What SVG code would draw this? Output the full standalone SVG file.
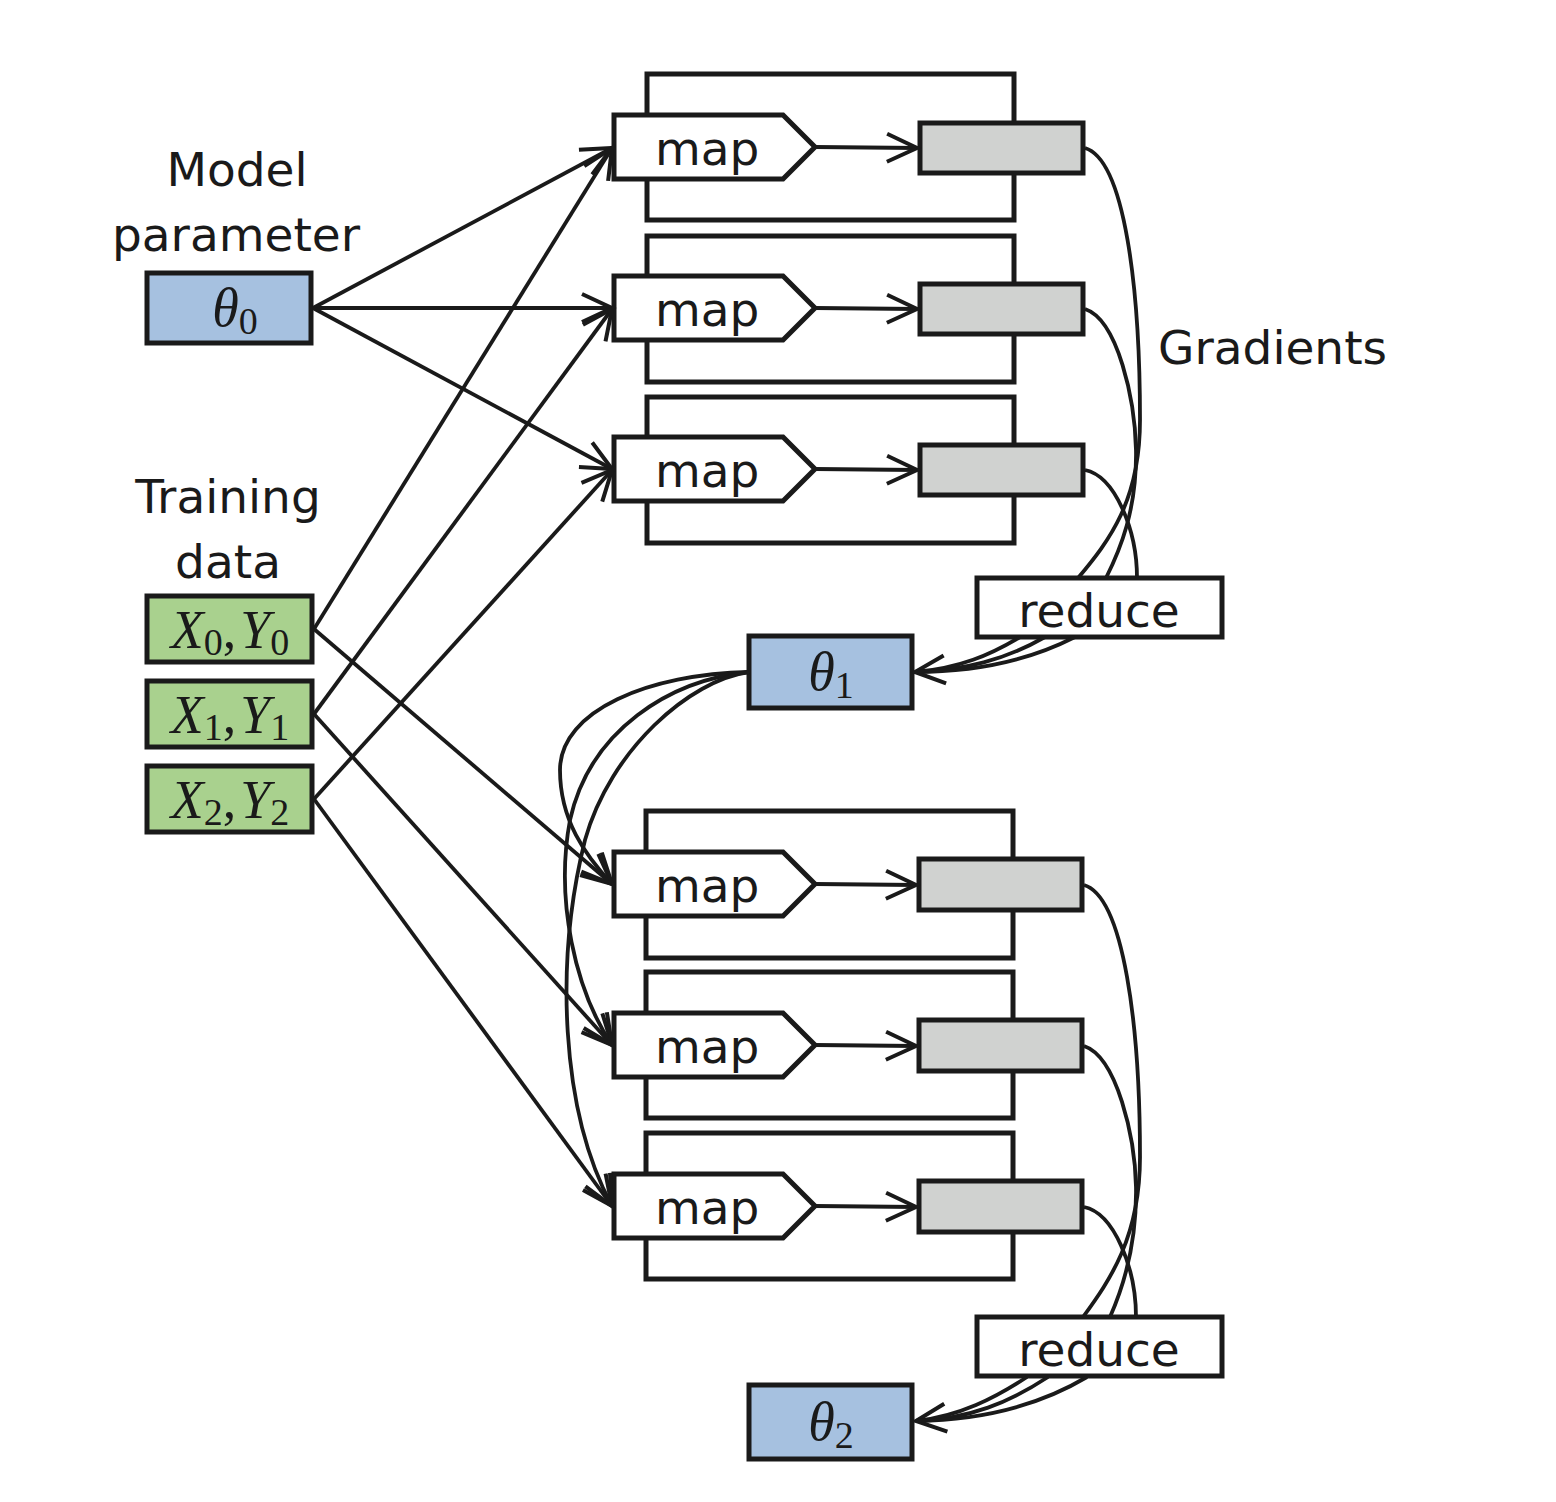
<svg xmlns="http://www.w3.org/2000/svg" width="1556" height="1502" viewBox="0 0 1556 1502">
<style>
.box{stroke:#1a1a1a;stroke-width:5;}
.outer{fill:none;stroke:#1a1a1a;stroke-width:5;}
.map{fill:#fff;stroke:#1a1a1a;stroke-width:5;stroke-linejoin:miter;}
.grad{fill:#d0d2d0;stroke:#1a1a1a;stroke-width:5;}
.blue{fill:#a6c1e0;}
.green{fill:#a9d18e;}
.white{fill:#fff;}
.lbl{font-family:"DejaVu Sans","Noto Sans",sans-serif;font-size:47px;fill:#1a1a1a;}
.maplbl{font-family:"DejaVu Sans","Noto Sans",sans-serif;font-size:47px;fill:#1a1a1a;}
.math{font-family:"Liberation Serif","DejaVu Serif",serif;font-size:54px;fill:#1a1a1a;}
.it{font-style:italic;}
.sub{font-size:38px;font-style:normal;}
.conn path,.conn line{fill:none;stroke:#1a1a1a;stroke-width:3.8;}
</style>
<defs>
<marker id="ah" markerUnits="userSpaceOnUse" markerWidth="44" markerHeight="44" viewBox="-36 -22 44 44" refX="0" refY="0" orient="auto" overflow="visible">
<path d="M-30,-14 L0,0 L-30,14" fill="none" stroke="#1a1a1a" stroke-width="4"/>
</marker>
</defs>

<g id="labels">
<text class="lbl" x="237" y="186" text-anchor="middle">Model</text>
<text class="lbl" x="236" y="251" text-anchor="middle">parameter</text>
<text class="lbl" x="228" y="513" text-anchor="middle">Training</text>
<text class="lbl" x="228" y="578" text-anchor="middle">data</text>
<text class="lbl" x="1158" y="364">Gradients</text>
</g>

<g id="worker1"><rect class="outer" x="647" y="74" width="367" height="146"/><polygon class="map" points="614,115 783,115 815,147 783,179 614,179"/><text class="maplbl" x="655" y="165">map</text><rect class="grad" x="920" y="123" width="163" height="50"/></g>
<g id="worker2"><rect class="outer" x="647" y="236" width="367" height="146"/><polygon class="map" points="614,276 783,276 815,308 783,340 614,340"/><text class="maplbl" x="655" y="326">map</text><rect class="grad" x="920" y="284" width="163" height="50"/></g>
<g id="worker3"><rect class="outer" x="647" y="397" width="367" height="146"/><polygon class="map" points="614,437 783,437 815,469 783,501 614,501"/><text class="maplbl" x="655" y="487">map</text><rect class="grad" x="920" y="445" width="163" height="50"/></g>
<g id="worker4"><rect class="outer" x="646" y="811" width="367" height="147"/><polygon class="map" points="614,852 783,852 815,884 783,916 614,916"/><text class="maplbl" x="655" y="902">map</text><rect class="grad" x="919" y="859" width="163" height="51"/></g>
<g id="worker5"><rect class="outer" x="646" y="972" width="367" height="146"/><polygon class="map" points="614,1013 783,1013 815,1045 783,1077 614,1077"/><text class="maplbl" x="655" y="1063">map</text><rect class="grad" x="919" y="1020" width="163" height="51"/></g>
<g id="worker6"><rect class="outer" x="646" y="1133" width="367" height="146"/><polygon class="map" points="614,1174 783,1174 815,1206 783,1238 614,1238"/><text class="maplbl" x="655" y="1224">map</text><rect class="grad" x="919" y="1181" width="163" height="51"/></g>

<g id="theta0"><rect class="box blue" x="147" y="273" width="164" height="70"/><text class="math" x="235" y="326" text-anchor="middle"><tspan class="it">θ</tspan><tspan class="sub" dy="8">0</tspan></text></g>
<g id="xy0"><rect class="box green" x="147" y="596" width="165" height="66"/><text class="math" x="230" y="648" text-anchor="middle"><tspan class="it">X</tspan><tspan class="sub" dy="7">0</tspan><tspan dy="-7">,</tspan><tspan class="it" dx="4">Y</tspan><tspan class="sub" dy="7">0</tspan></text></g>
<g id="xy1"><rect class="box green" x="147" y="681" width="165" height="66"/><text class="math" x="230" y="733" text-anchor="middle"><tspan class="it">X</tspan><tspan class="sub" dy="7">1</tspan><tspan dy="-7">,</tspan><tspan class="it" dx="4">Y</tspan><tspan class="sub" dy="7">1</tspan></text></g>
<g id="xy2"><rect class="box green" x="147" y="766" width="165" height="66"/><text class="math" x="230" y="818" text-anchor="middle"><tspan class="it">X</tspan><tspan class="sub" dy="7">2</tspan><tspan dy="-7">,</tspan><tspan class="it" dx="4">Y</tspan><tspan class="sub" dy="7">2</tspan></text></g>

<g id="reduce1"><rect class="box white" x="977" y="578" width="245" height="59"/><text class="lbl" x="1099" y="627" text-anchor="middle">reduce</text></g>
<g id="theta1"><rect class="box blue" x="749" y="636" width="163" height="72"/><text class="math" x="831" y="690" text-anchor="middle"><tspan class="it">θ</tspan><tspan class="sub" dy="8">1</tspan></text></g>
<g id="reduce2"><rect class="box white" x="977" y="1317" width="245" height="59"/><text class="lbl" x="1099" y="1366" text-anchor="middle">reduce</text></g>
<g id="theta2"><rect class="box blue" x="749" y="1385" width="163" height="74"/><text class="math" x="831" y="1440" text-anchor="middle"><tspan class="it">θ</tspan><tspan class="sub" dy="8">2</tspan></text></g>

<g id="connectors" class="conn">
<line x1="313" y1="308" x2="612" y2="148" marker-end="url(#ah)"/>
<line x1="313" y1="308" x2="612" y2="308" marker-end="url(#ah)"/>
<line x1="313" y1="308" x2="612" y2="469" marker-end="url(#ah)"/>
<line x1="314" y1="629" x2="612" y2="148" marker-end="url(#ah)"/>
<line x1="314" y1="714" x2="612" y2="309" marker-end="url(#ah)"/>
<line x1="314" y1="799" x2="612" y2="470" marker-end="url(#ah)"/>
<line x1="314" y1="629" x2="612" y2="884" marker-end="url(#ah)"/>
<line x1="314" y1="714" x2="612" y2="1045" marker-end="url(#ah)"/>
<line x1="314" y1="799" x2="612" y2="1206" marker-end="url(#ah)"/>

<line x1="815" y1="147" x2="917" y2="148" marker-end="url(#ah)"/>
<line x1="815" y1="308" x2="917" y2="309" marker-end="url(#ah)"/>
<line x1="815" y1="469" x2="917" y2="470" marker-end="url(#ah)"/>
<line x1="815" y1="884" x2="916" y2="885" marker-end="url(#ah)"/>
<line x1="815" y1="1045" x2="916" y2="1046" marker-end="url(#ah)"/>
<line x1="815" y1="1206" x2="916" y2="1207" marker-end="url(#ah)"/>

<path d="M1085,148 C1125,160 1140,290 1140,420 C1140,500 1110,540 1078,578"/>
<path d="M1085,309 C1118,320 1135,400 1136,450 C1137,510 1120,550 1106,578"/>
<path d="M1085,470 C1115,476 1137,530 1137,578"/>
<path d="M1020,637 C990,655 960,668 915,672" marker-end="url(#ah)"/>
<path d="M1045,637 C1005,660 965,670 915,672"/>
<path d="M1075,637 C1030,660 975,672 915,672"/>

<path d="M749,672 C650,674 560,710 560,770 C560,820 585,855 612,884" marker-end="url(#ah)"/>
<path d="M749,672 C670,680 590,730 570,820 C555,900 575,990 612,1045" marker-end="url(#ah)"/>
<path d="M749,672 C690,680 610,750 585,840 C555,960 560,1110 612,1206" marker-end="url(#ah)"/>

<path d="M1084,885 C1124,897 1140,1027 1140,1157 C1140,1237 1110,1280 1083,1317"/>
<path d="M1084,1046 C1117,1057 1135,1137 1136,1187 C1137,1247 1122,1290 1110,1317"/>
<path d="M1084,1207 C1114,1213 1136,1268 1136,1317"/>
<path d="M1027,1377 C995,1398 960,1416 916,1421" marker-end="url(#ah)"/>
<path d="M1048,1377 C1010,1402 970,1419 916,1421"/>
<path d="M1087,1377 C1040,1405 985,1420 916,1421"/>
</g>
</svg>
